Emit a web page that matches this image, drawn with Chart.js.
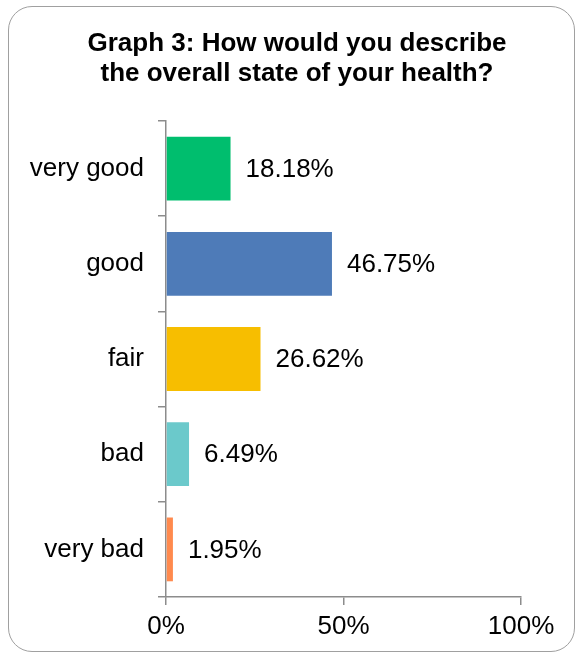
<!DOCTYPE html>
<html>
<head>
<meta charset="utf-8">
<script src="https://cdn.jsdelivr.net/npm/chart.js@4"></script>
<style>
  html, body { margin: 0; padding: 0; background: #fff; }
  #wrap { position: relative; width: 576px; height: 654px; }
  #frame {
    position: absolute; left: 8px; top: 6px; width: 567px; height: 646px;
    border: 1px solid #a0a0a0; border-radius: 24px; box-sizing: border-box;
  }
  #chart { position: absolute; left: 0; top: 0; }
</style>
</head>
<body>
<div id="wrap">
  <div id="frame"></div>
  <canvas id="chart" width="576" height="654"></canvas>
</div>
<script>
const FONT = "'Liberation Sans', Arial, sans-serif";

const titleLines = ['Graph 3: How would you describe', 'the overall state of your health?'];
const categories = ['very good', 'good', 'fair', 'bad', 'very bad'];
const shares = [18.18, 46.75, 26.62, 6.49, 1.95];
const barColors = ['#00be6e', '#4e7bb8', '#f7be00', '#6bc9cb', '#ff8a4e'];
const xTicks = [0, 50, 100];

const AXIS = '#8c8c8c';

// two-line bold heading, centred a little right of the canvas middle
const heading = {
  id: 'heading',
  afterDraw(chart) {
    const { ctx } = chart;
    ctx.save();
    ctx.font = `bold 26px ${FONT}`;
    ctx.fillStyle = '#000';
    ctx.textAlign = 'center';
    ctx.textBaseline = 'middle';
    titleLines.forEach((line, i) => ctx.fillText(line, 297, 44 + i * 30));
    ctx.restore();
  },
};

// writes the percentage just past the end of each bar
const valueLabels = {
  id: 'valueLabels',
  afterDatasetsDraw(chart) {
    const { ctx } = chart;
    const meta = chart.getDatasetMeta(0);
    ctx.save();
    ctx.font = `26px ${FONT}`;
    ctx.fillStyle = '#000';
    ctx.textAlign = 'left';
    ctx.textBaseline = 'middle';
    meta.data.forEach((bar, i) => {
      ctx.fillText(shares[i].toFixed(2) + '%', bar.x + 15, bar.y + 1);
    });
    ctx.restore();
  },
};

new Chart(document.getElementById('chart'), {
  type: 'bar',
  data: {
    labels: categories,
    datasets: [{
      data: shares,
      backgroundColor: barColors,
      borderWidth: 0,
      categoryPercentage: 1,
      barPercentage: 0.67,
    }],
  },
  options: {
    indexAxis: 'y',
    responsive: false,
    animation: false,
    layout: { padding: { left: 0, right: 55, top: 121, bottom: 0 } },
    plugins: {
      legend: { display: false },
      tooltip: { enabled: false },
      title: { display: false },
    },
    scales: {
      x: {
        min: 0,
        max: 100,
        afterFit(scale) { scale.height = 57; },
        afterBuildTicks(scale) { scale.ticks = xTicks.map((v) => ({ value: v })); },
        grid: { drawOnChartArea: false, drawTicks: true, tickLength: 8, color: AXIS, lineWidth: 1.5 },
        border: { display: true, color: AXIS, width: 1.5 },
        ticks: {
          color: '#000',
          padding: 6,
          font: { family: FONT, size: 26 },
          callback: (v) => v + '%',
        },
      },
      y: {
        afterFit(scale) { scale.width = 166; },
        grid: { drawOnChartArea: false, drawTicks: true, tickLength: 8, color: AXIS, lineWidth: 1.5, offset: true },
        border: { display: true, color: AXIS, width: 1.5 },
        ticks: {
          color: '#000',
          padding: 14,
          font: { family: FONT, size: 26 },
        },
      },
    },
  },
  plugins: [heading, valueLabels],
});
</script>
</body>
</html>
